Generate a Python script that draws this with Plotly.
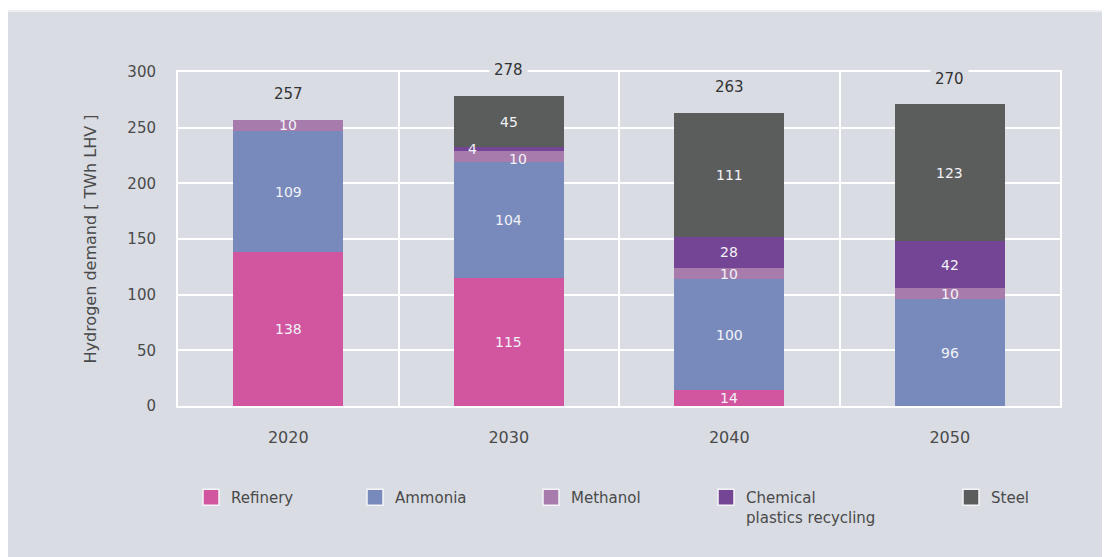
import plotly.graph_objects as go

years = ["2020", "2030", "2040", "2050"]
series_names = ["Refinery", "Ammonia", "Methanol", "Chemical<br>plastics recycling", "Steel"]
refinery = [138, 115, 14, 0]
ammonia = [109, 104, 100, 96]
methanol = [10, 10, 10, 10]
chemical = [0, 4, 28, 42]
steel = [0, 45, 111, 123]
totals = [257, 278, 263, 270]
y_ticks = [0, 50, 100, 150, 200, 250, 300]

colors = ["#d1569f", "#788abb", "#a77cac", "#754595", "#5b5d5c"]
values = [refinery, ammonia, methanol, chemical, steel]
panel = "#d9dce3"
text_col = "#4a4a4a"
font_family = "DejaVu Sans, Verdana, sans-serif"

# page pixels are offset by the browser's default 8px body margin
OFF = 8
W, H = 1110, 557
ML, MT = 178 - OFF, 72 - OFF
pw, ph = 882, 334
MR, MB = W - ML - pw, H - MT - ph


def px_x(px):
    return (px - OFF - ML) / pw


def px_y(py):
    return (MT + ph - (py - OFF)) / ph


fig = go.Figure()
for name, vals, col in zip(series_names, values, colors):
    fig.add_trace(go.Bar(
        x=years, y=vals, name=name, marker=dict(color=col, line=dict(width=0)),
        width=0.5, showlegend=False, hoverinfo="y"))

# small label nudges where thin segments collide: (series index, year index) -> (dx, dy)
nudges = {(3, 1): (-36, 0), (2, 1): (9, -2)}

annotations = []
for i, yr in enumerate(years):
    base = 0
    for s, vals in enumerate(values):
        v = vals[i]
        if v > 0:
            dx, dy = nudges.get((s, i), (0, 0))
            annotations.append(dict(
                x=i, y=base + v / 2, text=str(v), showarrow=False, xshift=dx, yshift=dy,
                font=dict(size=14, color="#f2f2f8", family=font_family)))
        base += v
    annotations.append(dict(
        x=i, y=totals[i], text=str(totals[i]), showarrow=False, yshift=26,
        bgcolor=panel, borderpad=4,
        font=dict(size=15, color="#333333", family=font_family)))

# legend entries on a hidden axis pair (one legend per item for exact placement)
leg_x = [208, 372, 548, 723, 968]
for k, (name, col) in enumerate(zip(series_names, colors)):
    lname = "legend" if k == 0 else f"legend{k+1}"
    fig.add_trace(go.Scatter(
        x=[0], y=[0], mode="markers", name=name, legend=lname,
        xaxis="x2", yaxis="y2", hoverinfo="skip",
        marker=dict(symbol="square", size=16, color=col, line=dict(color="#f4f4f8", width=1.5)),
        showlegend=True))

legend_layout = {}
for k in range(5):
    lname = "legend" if k == 0 else f"legend{k+1}"
    legend_layout[lname] = dict(
        x=px_x(leg_x[k] - 19 + 2), y=px_y(481), xref="paper", yref="paper",
        xanchor="left", yanchor="top", bgcolor="rgba(0,0,0,0)", borderwidth=0,
        valign="top", itemsizing="trace",
        font=dict(size=15, color=text_col, family=font_family))

fig.update_layout(
    width=W, height=H,
    paper_bgcolor="white", plot_bgcolor=panel,
    barmode="stack", bargap=0.5,
    margin=dict(l=ML, r=MR, t=MT, b=MB, autoexpand=False),
    font=dict(family=font_family, color=text_col),
    annotations=annotations,
    xaxis2=dict(visible=False, range=[10, 11], domain=[0, 0.01], anchor="y2"),
    yaxis2=dict(visible=False, range=[10, 11], domain=[0, 0.01], anchor="x2"),
    shapes=[dict(type="rect", xref="paper", yref="paper", layer="below",
                 x0=px_x(6), x1=px_x(W + OFF + 10), y0=px_y(H + OFF + 10), y1=px_y(12),
                 fillcolor=panel, line=dict(width=0)),
            dict(type="line", xref="paper", yref="paper", layer="below",
                 x0=px_x(6), x1=px_x(W + OFF + 10), y0=px_y(11), y1=px_y(11),
                 line=dict(color="#eceef2", width=2))],
    **legend_layout,
)
fig.update_layout(xaxis=dict(
    type="category", range=[-0.5, len(years) - 0.5], tickson="boundaries",
    showgrid=True, gridcolor="white", gridwidth=2,
    showline=True, linecolor="white", linewidth=2, mirror=True,
    ticks="outside", ticklen=0, tickcolor=panel, ticklabelstandoff=16,
    tickfont=dict(size=16, color=text_col, family=font_family)))
fig.update_layout(yaxis=dict(
    range=[0, 300], tickvals=y_ticks, showgrid=True, gridcolor="white", gridwidth=2,
    showline=True, linecolor="white", linewidth=2, mirror=True, zeroline=False,
    ticks="outside", ticklen=0, ticklabelstandoff=17,
    tickfont=dict(size=15, color=text_col, family=font_family),
    title=dict(text="Hydrogen demand [ TWh LHV ]", standoff=27,
               font=dict(size=16, color=text_col, family=font_family))))

fig.write_html("out.html")
